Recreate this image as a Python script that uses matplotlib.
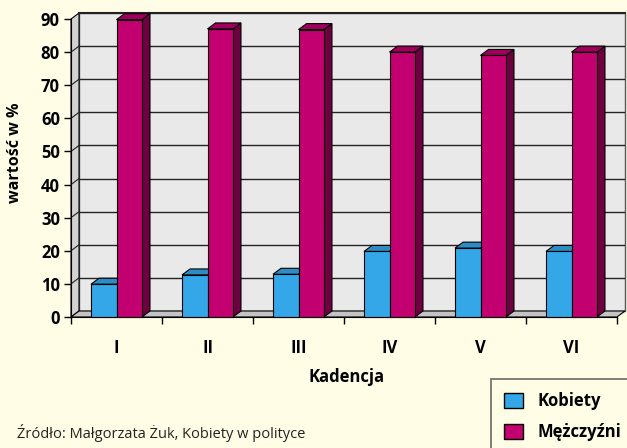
import matplotlib.pyplot as plt
from matplotlib.patches import Polygon, Patch

kadencje = ["I", "II", "III", "IV", "V", "VI"]
kobiety = [9.9, 12.7, 12.9, 19.8, 20.8, 19.8]
mezczyzni = [89.8, 87.0, 86.8, 80.0, 79.0, 80.0]
yticks = [0, 10, 20, 30, 40, 50, 60, 70, 80, 90]

BG = "#FFFDE6"
BLUE = ("#34A7E8", "#2E8CC4", "#1F6A99")      # front, top, side
PINK = ("#C2006F", "#A0005C", "#6E0040")

plt.rcParams["font.family"] = ["Open Sans", "DejaVu Sans"]

W, H = 627, 448
fig = plt.figure(figsize=(W / 100, H / 100), dpi=100, facecolor=BG)

# pixel geometry of the front axis box
px_x = 91.0       # px per category
px_y = 3.311      # px per value unit
dx = 8 / px_x     # depth offset in data units
dy = 6 / px_y
ncat = len(kadencje)
ymax = 90

ax = fig.add_axes([71 / W, 131 / H, (ncat * px_x + 8) / W, (ymax * px_y + 6) / H])
ax.set_xlim(0, ncat + dx)
ax.set_ylim(0, ymax + dy)
ax.patch.set_visible(False)

def poly(pts, fc, ec="black", lw=0.8, z=1):
    ax.add_patch(Polygon(pts, closed=True, facecolor=fc, edgecolor=ec,
                         linewidth=lw, zorder=z, clip_on=False))

# back wall, left wall, floor
poly([(dx, dy), (ncat + dx, dy), (ncat + dx, ymax + dy), (dx, ymax + dy)],
     "#E9E9E9", ec="#555555", lw=1.0, z=0)
poly([(0, 0), (dx, dy), (dx, ymax + dy), (0, ymax)], "#D2D2D2", lw=0.8, z=0.5)
poly([(0, 0), (ncat, 0), (ncat + dx, dy), (dx, dy)], "#C4C4C4", lw=0.8, z=0.5)
ax.plot([dx, ncat + dx], [ymax + dy, ymax + dy], color="#222222", lw=1.5, zorder=0.6, clip_on=False)

# gridlines on back and left walls
for t in yticks[1:-1]:
    ax.plot([dx, ncat + dx], [t + dy, t + dy], color="#222222", lw=1.0, zorder=0.6)
    ax.plot([0, dx], [t, t + dy], color="#222222", lw=0.8, zorder=0.6)

# 3D-looking bars
bw = 0.28
def bar3d(x0, v, cols, z):
    x1 = x0 + bw
    poly([(x1, 0), (x1 + dx, dy), (x1 + dx, v + dy), (x1, v)], cols[2], z=z)
    poly([(x0, v), (x0 + dx, v + dy), (x1 + dx, v + dy), (x1, v)], cols[1], z=z)
    poly([(x0, 0), (x1, 0), (x1, v), (x0, v)], cols[0], z=z)

for i in range(ncat):
    c = i + 0.5
    bar3d(c - bw, kobiety[i], BLUE, 2 + i)
    bar3d(c, mezczyzni[i], PINK, 2.5 + i)

# axes
for s in ["top", "right"]:
    ax.spines[s].set_visible(False)
ax.spines["left"].set_bounds(0, ymax)
ax.spines["bottom"].set_bounds(0, ncat)
ax.spines["left"].set_zorder(20)
ax.spines["bottom"].set_zorder(20)
ax.set_yticks(yticks)
ax.set_yticklabels([str(t) for t in yticks], fontsize=12, fontweight="bold")
ax.tick_params(axis="y", length=5, width=1, pad=3)
ax.set_xticks(range(ncat + 1))
ax.set_xticklabels([])
ax.set_xticks([i + 0.5 for i in range(ncat)], minor=True)
ax.set_xticklabels(kadencje, minor=True, fontsize=12, fontweight="bold")
ax.tick_params(axis="x", which="major", length=5, width=1)
ax.tick_params(axis="x", which="minor", length=0, pad=16)

fig.text(347 / W, 1 - 377 / H, "Kadencja", ha="center", va="center",
         fontsize=12, fontweight="bold")
fig.text(15 / W, 1 - 153 / H, "wartość w %", ha="center", va="center",
         rotation=90, fontsize=11.5, fontweight="bold")
fig.text(17 / W, 1 - 433 / H, "Źródło: Małgorzata Żuk, Kobiety w polityce",
         ha="left", va="center", fontsize=10.5, color="#222222")

handles = [Patch(facecolor=BLUE[0], edgecolor="black", label="Kobiety"),
           Patch(facecolor=PINK[0], edgecolor="black", label="Mężczyźni")]
leg = fig.legend(handles=handles, loc="upper left",
                 bbox_to_anchor=(491 / W, 1 - 379 / H), frameon=True,
                 fancybox=False, edgecolor="#444444", facecolor=BG,
                 prop={"weight": "bold", "size": 12}, handlelength=1.1,
                 handleheight=1.0, borderpad=0.8, labelspacing=0.75,
                 handletextpad=0.9, borderaxespad=0)
leg.get_frame().set_linewidth(1.2)

fig.savefig("out.png", dpi=100, facecolor=BG)
